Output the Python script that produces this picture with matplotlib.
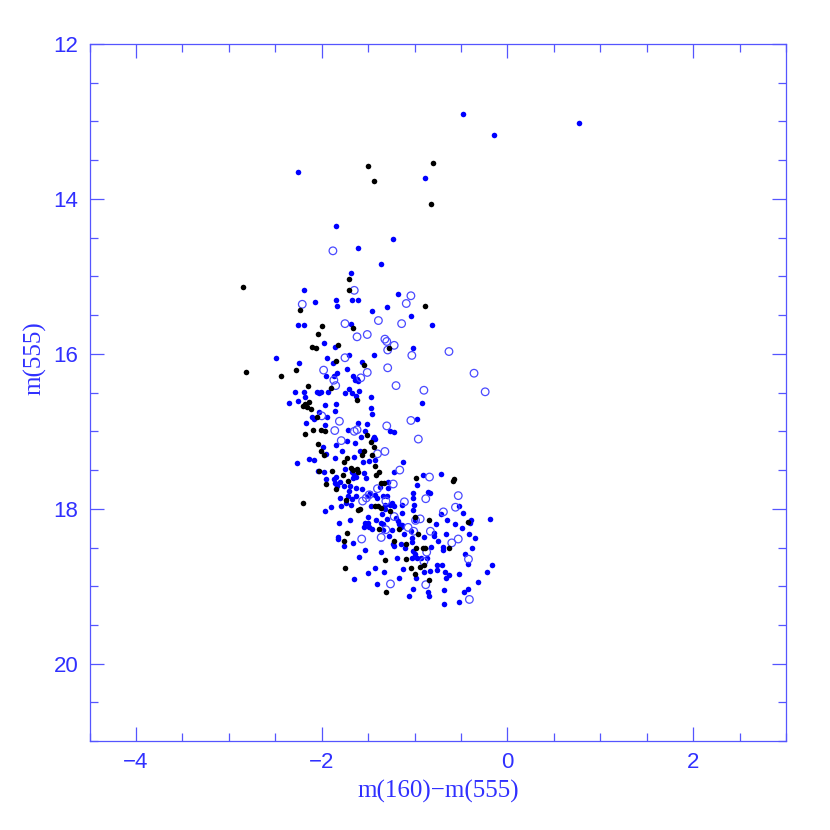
import numpy as np
import matplotlib
matplotlib.use("Agg")
import matplotlib.pyplot as plt
from matplotlib.ticker import MultipleLocator

# Filled blue points: colour m(160)-m(555) and magnitude m(555)
blue_x = [-2.26, -0.48, 0.77, -0.14, -0.89, -1.85, -1.23, -1.61, -1.36, -1.68,
          -2.19, -2.07, -1.85, -1.84, -2.26, -2.19, -1.98, -1.86, -2.49, -1.94,
          -1.88, -2.25, -1.84, -1.95, -1.87, -2.29, -2.19, -2.05, -2.03, -2.01,
          -1.93, -1.18, -1.67, -1.61, -1.46, -1.30, -1.04, -0.81, -1.68, -1.02,
          -1.71, -1.44, -1.57, -1.73, -1.66, -1.64, -1.61, -1.62, -1.71, -1.67,
          -1.60, -1.75, -2.18, -2.35, -2.26, -1.97, -1.85, -1.86, -2.03, -2.10,
          -2.08, -1.94, -2.17, -1.96, -1.99, -1.85, -1.95, -2.27, -2.14, -2.08,
          -1.86, -2.04, -1.98, -1.85, -1.95, -1.87, -1.86, -1.84, -1.90, -1.97,
          -1.63, -1.47, -1.47, -1.46, -0.92, -1.61, -1.51, -1.72, -1.53, -1.26,
          -1.22, -0.97, -1.58, -1.44, -1.43, -1.45, -1.73, -1.64, -1.78, -1.59,
          -1.65, -1.49, -1.43, -1.56, -1.13, -1.22, -1.75, -1.67, -1.65, -1.63,
          -1.66, -1.55, -1.52, -1.80, -1.76, -1.70, -1.37, -1.29, -1.29, -0.91,
          -0.72, -1.63, -1.57, -1.71, -0.97, -1.02, -0.86, -0.83, -1.48, -1.50,
          -1.43, -1.34, -1.30, -1.02, -1.80, -1.72, -1.63, -1.67, -1.41, -1.24,
          -1.14, -1.47, -1.32, -1.26, -1.22, -1.01, -1.74, -1.69, -1.79, -1.81,
          -1.70, -1.50, -1.53, -1.50, -1.54, -1.49, -1.46, -1.42, -1.32, -1.35,
          -1.36, -1.34, -1.30, -1.34, -1.20, -1.18, -1.17, -1.15, -1.24, -1.14,
          -1.02, -1.00, -1.14, -1.04, -0.90, -1.11, -1.83, -1.82, -1.76, -1.66,
          -1.28, -1.15, -1.22, -1.23, -1.10, -1.03, -1.03, -0.82, -1.02, -1.00,
          -1.53, -1.36, -1.60, -1.19, -1.03, -0.97, -0.93, -0.87, -1.43, -1.50,
          -1.33, -1.12, -0.90, -0.83, -0.99, -1.17, -1.65, -1.40, -1.02, -1.06,
          -0.86, -0.84, -0.72, -0.52, -0.48, -0.65, -0.77, -0.56, -0.39, -0.40,
          -0.49, -0.19, -0.79, -0.79, -0.66, -0.41, -0.35, -0.75, -0.69, -0.69,
          -0.38, -0.46, -0.43, -0.17, -0.76, -0.71, -0.76, -0.67, -0.63, -0.66,
          -0.52, -0.22, -0.32, -0.68, -0.43, -0.47, -0.52, -0.68]
blue_y = [13.65, 12.90, 13.02, 13.17, 13.73, 14.35, 14.52, 14.63, 14.84, 14.96,
          15.17, 15.33, 15.30, 15.38, 15.63, 15.63, 15.86, 15.91, 16.05, 16.05,
          16.12, 16.12, 16.25, 16.29, 16.28, 16.49, 16.49, 16.49, 16.51, 16.49,
          16.49, 15.23, 15.30, 15.30, 15.45, 15.40, 15.51, 15.63, 15.61, 15.93,
          16.02, 16.02, 16.11, 16.19, 16.28, 16.34, 16.35, 16.32, 16.46, 16.50,
          16.48, 16.51, 16.56, 16.63, 16.61, 16.66, 16.65, 16.74, 16.75, 16.82,
          16.84, 16.82, 16.89, 16.92, 17.20, 17.18, 17.29, 17.41, 17.36, 17.37,
          17.35, 17.51, 17.52, 17.59, 17.62, 17.62, 17.67, 17.71, 17.98, 18.03,
          16.54, 16.56, 16.70, 16.78, 16.63, 16.89, 16.90, 16.98, 16.99, 16.99,
          17.01, 16.84, 17.07, 17.07, 17.10, 17.10, 17.12, 17.15, 17.25, 17.25,
          17.33, 17.38, 17.37, 17.40, 17.40, 17.53, 17.48, 17.53, 17.57, 17.59,
          17.60, 17.54, 17.60, 17.66, 17.70, 17.71, 17.72, 17.66, 17.73, 17.57,
          17.55, 17.73, 17.74, 17.77, 17.69, 17.79, 17.78, 17.79, 17.80, 17.83,
          17.82, 17.83, 17.83, 17.86, 17.86, 17.83, 17.83, 17.87, 17.86, 17.92,
          17.95, 17.97, 17.95, 17.95, 17.96, 17.95, 17.93, 17.95, 17.96, 18.18,
          18.15, 18.10, 18.18, 18.18, 18.23, 18.24, 18.26, 18.15, 18.00, 18.07,
          18.18, 18.20, 18.13, 18.28, 18.12, 18.16, 18.19, 18.23, 18.27, 18.05,
          18.02, 18.14, 18.21, 18.29, 18.36, 18.32, 18.37, 18.39, 18.48, 18.44,
          18.35, 18.46, 18.48, 18.46, 18.50, 18.38, 18.43, 18.49, 18.55, 18.58,
          18.53, 18.56, 18.62, 18.64, 18.63, 18.63, 18.64, 18.63, 18.76, 18.83,
          18.81, 18.78, 18.81, 18.80, 18.89, 18.89, 18.91, 18.97, 19.03, 19.12,
          19.08, 19.12, 18.07, 17.97, 18.05, 18.14, 18.20, 18.20, 18.15, 18.18,
          18.25, 18.13, 18.31, 18.35, 18.32, 18.33, 18.38, 18.42, 18.49, 18.53,
          18.51, 18.58, 18.71, 18.72, 18.72, 18.72, 18.79, 18.82, 18.85, 18.89,
          18.84, 18.81, 18.94, 19.05, 19.03, 19.08, 19.20, 19.23]

# Filled black points
black_x = [-1.50, -1.44, -0.80, -0.82, -1.71, -1.71, -2.85, -2.23, -2.00, -2.04,
           -1.83, -2.10, -2.06, -1.85, -2.82, -2.44, -2.28, -2.15, -1.90, -0.89,
           -1.66, -1.28, -1.54, -2.14, -2.18, -2.20, -2.16, -2.12, -2.05, -2.09,
           -2.01, -1.97, -2.18, -2.04, -2.01, -1.98, -2.03, -1.89, -1.95, -1.85,
           -2.20, -1.62, -1.51, -1.47, -1.44, -1.54, -1.46, -1.57, -1.73, -1.76,
           -1.43, -1.68, -1.66, -1.62, -1.61, -1.77, -1.38, -1.42, -1.72, -1.36,
           -1.33, -0.98, -0.59, -0.58, -1.74, -1.43, -1.39, -1.36, -1.61, -1.59,
           -1.27, -1.00, -0.84, -0.42, -1.17, -1.38, -0.96, -1.73, -1.76, -1.22,
           -1.09, -0.99, -0.91, -0.89, -1.32, -1.09, -0.94, -0.90, -1.75, -1.04,
           -1.00, -1.31, -0.84, -0.63]
black_y = [13.57, 13.77, 13.54, 14.06, 15.03, 15.18, 15.14, 15.44, 15.64, 15.74,
           15.88, 15.91, 15.93, 16.09, 16.24, 16.28, 16.21, 16.41, 16.44, 15.38,
           15.66, 15.93, 16.14, 16.62, 16.65, 16.67, 16.68, 16.71, 16.82, 16.98,
           16.98, 16.99, 17.04, 17.17, 17.25, 17.31, 17.51, 17.51, 17.68, 17.75,
           17.93, 16.60, 17.05, 17.14, 17.20, 17.25, 17.30, 17.31, 17.35, 17.39,
           17.45, 17.47, 17.50, 17.48, 17.53, 17.56, 17.53, 17.57, 17.64, 17.67,
           17.67, 17.60, 17.64, 17.62, 17.89, 17.97, 17.96, 17.99, 18.01, 18.00,
           18.03, 18.10, 18.15, 18.17, 18.26, 18.26, 18.33, 18.31, 18.41, 18.41,
           18.46, 18.50, 18.51, 18.51, 18.66, 18.65, 18.75, 18.73, 18.76, 18.77,
           18.84, 19.07, 18.92, 18.51]

# Open blue circles
open_x = [-1.88, -2.21, -1.98, -1.87, -1.85, -1.65, -1.04, -1.09, -1.39, -1.14,
          -1.75, -1.62, -1.51, -1.32, -1.30, -1.22, -1.29, -1.03, -0.63, -1.75,
          -1.29, -1.51, -1.58, -1.20, -0.90, -0.36, -0.24, -2.00, -1.81, -1.86,
          -1.30, -1.04, -1.65, -1.62, -0.96, -1.79, -1.40, -1.32, -1.16, -0.84,
          -1.23, -1.40, -1.49, -1.52, -0.88, -1.56, -1.31, -1.11, -0.53, -0.56,
          -1.22, -0.94, -0.99, -1.31, -1.07, -1.01, -0.83, -1.57, -1.36, -0.87,
          -0.90, -1.26, -0.88, -0.69, -0.53, -0.60, -0.42, -0.41]
open_y = [14.67, 15.36, 16.21, 16.34, 16.41, 15.18, 15.25, 15.35, 15.57, 15.61,
          15.61, 15.78, 15.75, 15.81, 15.84, 15.89, 15.95, 16.02, 15.97, 16.05,
          16.18, 16.24, 16.31, 16.41, 16.47, 16.25, 16.49, 16.80, 16.87, 16.99,
          16.93, 16.86, 17.00, 16.98, 17.10, 17.12, 17.29, 17.26, 17.50, 17.59,
          17.68, 17.74, 17.82, 17.86, 17.87, 17.90, 17.90, 17.91, 17.83, 17.98,
          18.10, 18.13, 18.15, 18.27, 18.24, 18.29, 18.29, 18.39, 18.37, 18.56,
          18.68, 18.97, 18.98, 18.04, 18.39, 18.44, 18.65, 19.17]

text_col = '#3030ff'
frame_col = '#5555ff'

fig = plt.figure(figsize=(8.3, 8.3), dpi=100)
ax = fig.add_axes([0.108, 0.107, 0.839, 0.840])

ax.scatter(blue_x, blue_y, s=16, color='#0000ff', linewidths=0, zorder=2)
ax.scatter(open_x, open_y, s=30, facecolors='none', edgecolors='#4a4aff',
           linewidths=0.9, zorder=3)
ax.scatter(black_x, black_y, s=16, color='black', linewidths=0, zorder=4)

ax.set_xlim(-4.5, 3)
ax.set_ylim(21, 12)

ax.xaxis.set_major_locator(MultipleLocator(2))
ax.xaxis.set_minor_locator(MultipleLocator(0.5))
ax.yaxis.set_major_locator(MultipleLocator(2))
ax.yaxis.set_minor_locator(MultipleLocator(0.5))
ax.tick_params(which='both', direction='in', top=True, right=True,
               color=frame_col, width=0.9)
ax.tick_params(which='major', length=10, labelsize=16, labelcolor=text_col, pad=8)
ax.tick_params(which='minor', length=5.5)
for lab in ax.get_xticklabels() + ax.get_yticklabels():
    lab.set_family('Liberation Sans')
for sp in ax.spines.values():
    sp.set_color(frame_col)
    sp.set_linewidth(0.9)

ax.set_xlabel('m(160)\u2212m(555)', fontsize=18, color=text_col,
              family='Liberation Serif', labelpad=5)
ax.set_ylabel('m(555)', fontsize=18, color=text_col,
              family='Liberation Serif')
ax.yaxis.set_label_coords(-0.062, 0.55)

fig.savefig('out.png', dpi=100)
